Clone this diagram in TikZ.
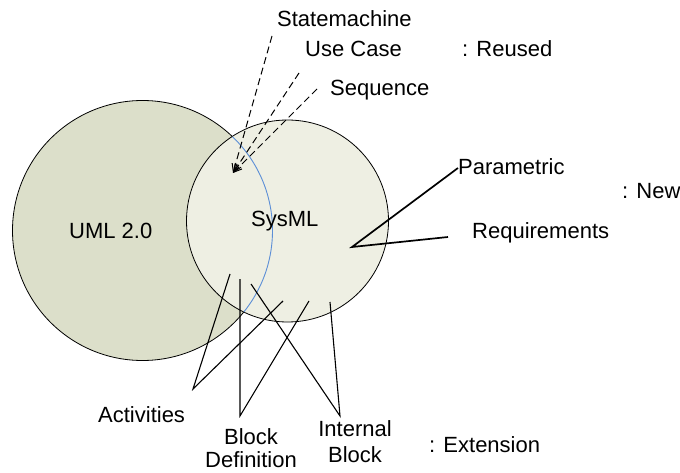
\documentclass[tikz,border=0pt]{standalone}
\usepackage{fontspec}
\setmainfont{Liberation Sans}
\usetikzlibrary{arrows.meta}
\definecolor{umlfill}{HTML}{DCDFCA}
\definecolor{sysfill}{HTML}{EEEFE3}
\definecolor{arcblue}{HTML}{5B8ED6}
\begin{document}
\begin{tikzpicture}[x=1pt,y=-1pt,
  lbl/.style={font=\fontsize{22}{25}\selectfont, inner sep=0pt, anchor=base west},
  lblc/.style={font=\fontsize{22}{25}\selectfont, inner sep=0pt, anchor=base, align=center},
  reuse/.style={draw=black, line width=1pt, dash pattern=on 7pt off 4pt,
    -{Straight Barb[length=8pt,width=7pt]}},
  link/.style={draw=black, line width=1.1pt},
  newlink/.style={draw=black, line width=1.7pt}]
\useasboundingbox (0,0) rectangle (680,473);

% the two overlapping sets
\coordinate (umlc) at (142.5,230.5);
\coordinate (sysc) at (287.5,221);
\filldraw[fill=umlfill, line width=0.8pt] (umlc) circle[radius=130];
\filldraw[fill=sysfill, line width=0.8pt] (sysc) circle[radius=101];
\begin{scope}
  \clip (sysc) circle[radius=100.6];
  \draw[arcblue, line width=0.9pt] (umlc) circle[radius=130];
\end{scope}

% set names
\node[lbl] (uml) at (69,238) {UML 2.0};
\node[lbl] (sysml) at (251,227) {SysML};

% reused diagrams
\node[lbl] (sm) at (277,27) {Statemachine};
\node[lbl] (uc) at (305,57) {Use Case};
\node[lbl] (seq) at (330,96) {Sequence};
\node[lbl] (reused) at (462,57) {: Reused};
\coordinate (smend) at (272,36);
\coordinate (ucend) at (299,73);
\coordinate (seqend) at (317,89);
\coordinate (reusetip) at (233,173);
\draw[reuse] (smend) -- (reusetip);
\draw[reuse] (ucend) -- (reusetip);
\draw[reuse] (seqend) -- (reusetip);

% new diagrams
\node[lbl] (par) at (458,175) {Parametric};
\node[lbl] (req) at (472,239) {Requirements};
\node[lbl] (new) at (622,199) {: New};
\coordinate (parend) at (458,168);
\coordinate (reqend) at (448,237);
\coordinate (newpt) at (352,247);
\draw[newlink, line join=miter] (parend) -- (newpt) -- (reqend);

% extended diagrams (base anchor sits on the last line)
\node[lbl] (act) at (98,422) {Activities};
\node[lblc] (bdd) at (251,467) {Block\\[-2pt]Definition};
\node[lblc] (ibd) at (355,462) {Internal\\[1pt]Block};
\node[lbl] (ext) at (429,452) {: Extension};

\coordinate (actv) at (193,389);
\coordinate (acta) at (230,274);
\coordinate (actb) at (283,301);
\coordinate (bddv) at (240,416);
\coordinate (bdda) at (240,279);
\coordinate (bddb) at (309,301);
\coordinate (ibdv) at (340,416);
\coordinate (ibda) at (251,284);
\coordinate (ibdb) at (330,302);
\draw[link] (acta) -- (actv) -- (actb);
\draw[link] (bdda) -- (bddv) -- (bddb);
\draw[link] (ibda) -- (ibdv) -- (ibdb);
\end{tikzpicture}
\end{document}
